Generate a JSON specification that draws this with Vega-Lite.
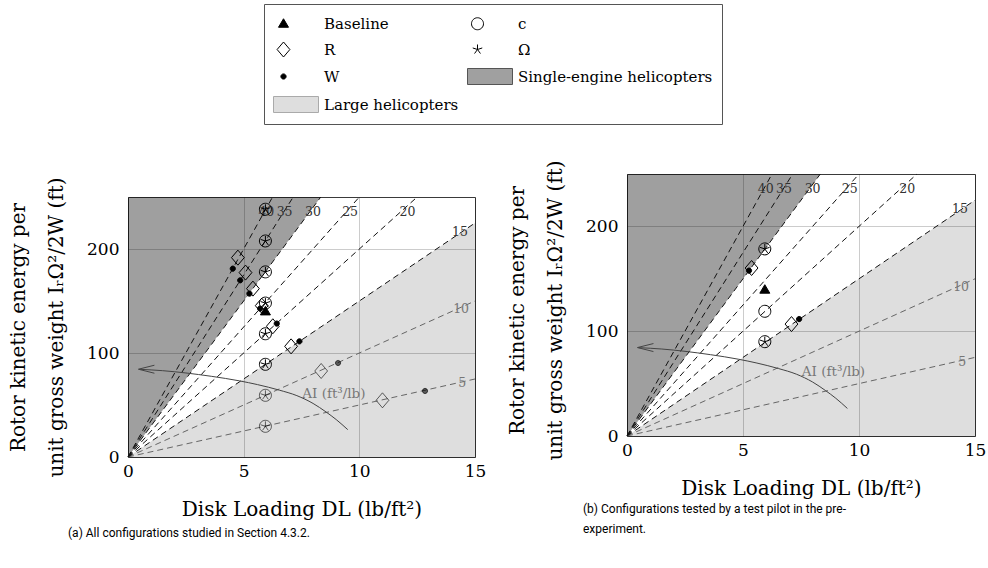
{
 "$schema": "https://vega.github.io/schema/vega-lite/v6.json",
 "padding": {"left": 8, "top": 3, "right": 2, "bottom": 2},
 "spacing": 20,
 "datasets": {
  "regions": [
   {"zone": "dark", "dl": 0, "lo": 0, "hi": 250},
   {"zone": "dark", "dl": 8.333, "lo": 250, "hi": 250},
   {"zone": "light", "dl": 0, "lo": 0, "hi": 0},
   {"zone": "light", "dl": 15, "lo": 0, "hi": 225}
  ],
  "iso": [
   {"ai": 5, "dl": 0, "e": 0}, {"ai": 5, "dl": 15, "e": 75},
   {"ai": 10, "dl": 0, "e": 0}, {"ai": 10, "dl": 15, "e": 150},
   {"ai": 15, "dl": 0, "e": 0}, {"ai": 15, "dl": 15, "e": 225},
   {"ai": 20, "dl": 0, "e": 0}, {"ai": 20, "dl": 12.5, "e": 250},
   {"ai": 25, "dl": 0, "e": 0}, {"ai": 25, "dl": 10, "e": 250},
   {"ai": 30, "dl": 0, "e": 0}, {"ai": 30, "dl": 8.333, "e": 250},
   {"ai": 35, "dl": 0, "e": 0}, {"ai": 35, "dl": 7.143, "e": 250},
   {"ai": 40, "dl": 0, "e": 0}, {"ai": 40, "dl": 6.25, "e": 250}
  ],
  "isoLabels": [
   {"ai": 40, "label": "40", "dl": 5.98, "e": 236},
   {"ai": 35, "label": "35", "dl": 6.77, "e": 236},
   {"ai": 30, "label": "30", "dl": 8.0, "e": 236},
   {"ai": 25, "label": "25", "dl": 9.6, "e": 236},
   {"ai": 20, "label": "20", "dl": 12.08, "e": 236},
   {"ai": 15, "label": "15", "dl": 14.35, "e": 216.5},
   {"ai": 10, "label": "10", "dl": 14.4, "e": 142},
   {"ai": 5, "label": "5", "dl": 14.45, "e": 71}
  ],
  "curve": [
   {"dl": 9.5, "e": 26.3}, {"dl": 9.0, "e": 36.0}, {"dl": 8.56, "e": 43.3},
   {"dl": 8.0, "e": 51.5}, {"dl": 7.3, "e": 59.0}, {"dl": 6.54, "e": 64.3},
   {"dl": 5.6, "e": 69.6}, {"dl": 4.82, "e": 73.2}, {"dl": 3.6, "e": 77.6},
   {"dl": 2.5, "e": 80.8}, {"dl": 1.5, "e": 83.0}, {"dl": 0.5, "e": 84.3}
  ],
  "arrow": [{"dl": 0.45, "e": 84.4}],
  "aiLabel": [{"dl": 8.9, "e": 61, "label": "AI (ft³/lb)"}],
  "ptsA": [
   {"cfg": "c", "dl": 5.94, "e": 29.5, "region": "large"},
   {"cfg": "c", "dl": 5.94, "e": 59.3, "region": "large"},
   {"cfg": "c", "dl": 5.94, "e": 89.1, "region": "main"},
   {"cfg": "c", "dl": 5.94, "e": 118.5, "region": "main"},
   {"cfg": "c", "dl": 5.94, "e": 148, "region": "main"},
   {"cfg": "c", "dl": 5.94, "e": 178, "region": "main"},
   {"cfg": "c", "dl": 5.94, "e": 207.7, "region": "main"},
   {"cfg": "c", "dl": 5.94, "e": 238.2, "region": "main"},
   {"cfg": "Ω", "dl": 5.94, "e": 29.5, "region": "large"},
   {"cfg": "Ω", "dl": 5.94, "e": 59.3, "region": "large"},
   {"cfg": "Ω", "dl": 5.94, "e": 89.1, "region": "main"},
   {"cfg": "Ω", "dl": 5.94, "e": 118.5, "region": "main"},
   {"cfg": "Ω", "dl": 5.94, "e": 148, "region": "main"},
   {"cfg": "Ω", "dl": 5.94, "e": 178, "region": "main"},
   {"cfg": "Ω", "dl": 5.94, "e": 207.7, "region": "main"},
   {"cfg": "Ω", "dl": 5.94, "e": 238.2, "region": "main"},
   {"cfg": "Baseline", "dl": 5.94, "e": 140, "region": "main"},
   {"cfg": "R", "dl": 4.75, "e": 191.7, "region": "main"},
   {"cfg": "R", "dl": 5.08, "e": 177.3, "region": "main"},
   {"cfg": "R", "dl": 5.4, "e": 161.9, "region": "main"},
   {"cfg": "R", "dl": 5.78, "e": 145.5, "region": "main"},
   {"cfg": "R", "dl": 6.26, "e": 125.7, "region": "main"},
   {"cfg": "R", "dl": 7.05, "e": 106.4, "region": "main"},
   {"cfg": "R", "dl": 8.35, "e": 82.7, "region": "large"},
   {"cfg": "R", "dl": 11.0, "e": 54.5, "region": "large"},
   {"cfg": "W", "dl": 4.53, "e": 181.1, "region": "main"},
   {"cfg": "W", "dl": 4.85, "e": 169.9, "region": "main"},
   {"cfg": "W", "dl": 5.25, "e": 157.1, "region": "main"},
   {"cfg": "W", "dl": 5.71, "e": 142.7, "region": "main"},
   {"cfg": "W", "dl": 6.43, "e": 128.3, "region": "main"},
   {"cfg": "W", "dl": 7.41, "e": 111.2, "region": "main"},
   {"cfg": "W", "dl": 9.08, "e": 90.4, "region": "large"},
   {"cfg": "W", "dl": 12.84, "e": 63.5, "region": "large"}
  ],
  "ptsB": [
   {"cfg": "Baseline", "dl": 5.94, "e": 139.6},
   {"cfg": "c", "dl": 5.94, "e": 178.5},
   {"cfg": "c", "dl": 5.94, "e": 119},
   {"cfg": "c", "dl": 5.94, "e": 90},
   {"cfg": "Ω", "dl": 5.94, "e": 178.5},
   {"cfg": "Ω", "dl": 5.94, "e": 90},
   {"cfg": "R", "dl": 5.37, "e": 160.3},
   {"cfg": "R", "dl": 7.09, "e": 106.8},
   {"cfg": "W", "dl": 5.26, "e": 157.8},
   {"cfg": "W", "dl": 7.42, "e": 111.6}
  ],
  "none": []
 },
 "hconcat": [
  {
   "spacing": 0,
   "vconcat": [
    {
     "width": 347,
     "height": 2,
     "view": {"stroke": null},
     "data": {"name": "none"},
     "mark": {"type": "point"},
     "encoding": {}
    },
    {
     "width": 347,
     "height": 260,
     "title": {"text": "(a) All configurations studied in Section 4.3.2.", "orient": "bottom", "anchor": "start", "frame": "group", "dx": -60, "offset": 9},
     "layer": [
      {
       "data": {"name": "regions"},
       "transform": [{"filter": "datum.zone === 'dark'"}],
       "mark": {"type": "area", "fill": "#000", "fillOpacity": 0.375},
       "encoding": {
        "x": {"field": "dl", "type": "quantitative", "scale": {"domain": [0, 15], "nice": false},
              "axis": {"values": [0, 5, 10, 15], "title": "Disk Loading DL (lb/ft²)"}},
        "y": {"field": "lo", "type": "quantitative", "scale": {"domain": [0, 250], "nice": false},
              "axis": {"values": [0, 100, 200], "titleY": 130, "title": ["Rotor kinetic energy per", "unit gross weight IᵣΩ²/2W (ft)"]}},
        "y2": {"field": "hi"}
       }
      },
      {
       "data": {"name": "regions"},
       "transform": [{"filter": "datum.zone === 'light'"}],
       "mark": {"type": "area", "fill": "#000", "fillOpacity": 0.13},
       "encoding": {
        "x": {"field": "dl", "type": "quantitative", "scale": {"domain": [0, 15], "nice": false}},
        "y": {"field": "lo", "type": "quantitative", "scale": {"domain": [0, 250], "nice": false}},
        "y2": {"field": "hi"}
       }
      },
      {
       "data": {"name": "iso"},
       "transform": [{"filter": "datum.ai <= 10"}],
       "mark": {"type": "line", "color": "#666", "strokeWidth": 1, "strokeDash": [6, 4]},
       "encoding": {
        "x": {"field": "dl", "type": "quantitative", "scale": {"domain": [0, 15], "nice": false}},
        "y": {"field": "e", "type": "quantitative", "scale": {"domain": [0, 250], "nice": false}},
        "detail": {"field": "ai", "type": "nominal"}
       }
      },
      {
       "data": {"name": "iso"},
       "transform": [{"filter": "datum.ai >= 15"}],
       "mark": {"type": "line", "color": "#111", "strokeWidth": 1, "strokeDash": [6, 4]},
       "encoding": {
        "x": {"field": "dl", "type": "quantitative", "scale": {"domain": [0, 15], "nice": false}},
        "y": {"field": "e", "type": "quantitative", "scale": {"domain": [0, 250], "nice": false}},
        "detail": {"field": "ai", "type": "nominal"}
       }
      },
      {
       "data": {"name": "isoLabels"},
       "transform": [{"filter": "datum.ai >= 15"}],
       "mark": {"type": "text", "font": "DejaVu Serif", "fontSize": 12.5, "color": "#333", "align": "center", "baseline": "middle"},
       "encoding": {
        "x": {"field": "dl", "type": "quantitative", "scale": {"domain": [0, 15], "nice": false}},
        "y": {"field": "e", "type": "quantitative", "scale": {"domain": [0, 250], "nice": false}},
        "text": {"field": "label"}
       }
      },
      {
       "data": {"name": "isoLabels"},
       "transform": [{"filter": "datum.ai <= 10"}],
       "mark": {"type": "text", "font": "DejaVu Serif", "fontSize": 12.5, "color": "#777", "align": "center", "baseline": "middle"},
       "encoding": {
        "x": {"field": "dl", "type": "quantitative", "scale": {"domain": [0, 15], "nice": false}},
        "y": {"field": "e", "type": "quantitative", "scale": {"domain": [0, 250], "nice": false}},
        "text": {"field": "label"}
       }
      },
      {
       "data": {"name": "curve"},
       "mark": {"type": "line", "color": "#444", "strokeWidth": 1, "interpolate": "monotone"},
       "encoding": {
        "x": {"field": "dl", "type": "quantitative", "scale": {"domain": [0, 15], "nice": false}},
        "y": {"field": "e", "type": "quantitative", "scale": {"domain": [0, 250], "nice": false}}
       }
      },
      {
       "data": {"name": "arrow"},
       "mark": {"type": "point", "shape": "M3.2,-0.8L0,0L3.2,0.8", "size": 100, "stroke": "#444", "strokeWidth": 1, "fill": "transparent", "opacity": 1},
       "encoding": {
        "x": {"field": "dl", "type": "quantitative", "scale": {"domain": [0, 15], "nice": false}},
        "y": {"field": "e", "type": "quantitative", "scale": {"domain": [0, 250], "nice": false}}
       }
      },
      {
       "data": {"name": "aiLabel"},
       "mark": {"type": "text", "font": "DejaVu Serif", "fontSize": 13.5, "color": "#777", "align": "center", "baseline": "middle"},
       "encoding": {
        "x": {"field": "dl", "type": "quantitative", "scale": {"domain": [0, 15], "nice": false}},
        "y": {"field": "e", "type": "quantitative", "scale": {"domain": [0, 250], "nice": false}},
        "text": {"field": "label"}
       }
      },
      {
       "data": {"name": "ptsA"},
       "transform": [{"filter": "datum.region === 'main'"}],
       "mark": {"type": "point", "filled": true, "size": 400, "strokeWidth": 1, "opacity": 1},
       "encoding": {
        "x": {"field": "dl", "type": "quantitative", "scale": {"domain": [0, 15], "nice": false}},
        "y": {"field": "e", "type": "quantitative", "scale": {"domain": [0, 250], "nice": false}},
        "shape": {"field": "cfg", "type": "nominal",
         "scale": {"domain": ["Baseline", "R", "W", "Large helicopters", "c", "Ω", "Single-engine helicopters"],
                   "range": ["M0,-0.5L0.5,0.35L-0.5,0.35Z", "M0,-0.75L0.64,0L0,0.75L-0.64,0Z", "M0.26,0A0.26,0.26,0,1,1,-0.26,0A0.26,0.26,0,1,1,0.26,0Z", "M-1,-0.8H3.5V0.8H-1Z", "M0.6,0A0.6,0.6,0,1,1,-0.6,0A0.6,0.6,0,1,1,0.6,0Z", "M0,0L0,-0.5M0,0L0.4755,-0.1545M0,0L0.2939,0.4045M0,0L-0.2939,0.4045M0,0L-0.4755,-0.1545", "M-1,-0.8H3.5V0.8H-1Z"]},
         "legend": {"title": null, "orient": "none", "legendX": 136, "legendY": -170, "columns": 2, "columnPadding": 6, "rowPadding": 7, "symbolSize": 400, "symbolStrokeWidth": 1, "labelFont": "DejaVu Serif", "labelFontSize": 15, "labelColor": "#000", "labelOffset": 30, "labelBaseline": "middle", "labelLimit": 400, "padding": 9, "strokeColor": "#555", "fillColor": "#fff"}},
        "fill": {"field": "cfg", "type": "nominal",
         "scale": {"domain": ["Baseline", "R", "W", "Large helicopters", "c", "Ω", "Single-engine helicopters"],
                   "range": ["#000", "transparent", "#000", "#dedede", "transparent", "transparent", "#a0a0a0"]}},
        "stroke": {"field": "cfg", "type": "nominal",
         "scale": {"domain": ["Baseline", "R", "W", "Large helicopters", "c", "Ω", "Single-engine helicopters"],
                   "range": ["#000", "#000", "#000", "#aaa", "#000", "#000", "#555"]}}
       }
      },
      {
       "data": {"name": "ptsA"},
       "transform": [{"filter": "datum.region === 'large'"}],
       "mark": {"type": "point", "filled": true, "size": 400, "strokeWidth": 1, "strokeOpacity": 0.6, "fillOpacity": 0.6},
       "encoding": {
        "x": {"field": "dl", "type": "quantitative", "scale": {"domain": [0, 15], "nice": false}},
        "y": {"field": "e", "type": "quantitative", "scale": {"domain": [0, 250], "nice": false}},
        "shape": {"field": "cfg", "type": "nominal",
         "scale": {"domain": ["Baseline", "R", "W", "Large helicopters", "c", "Ω", "Single-engine helicopters"],
                   "range": ["M0,-0.5L0.5,0.35L-0.5,0.35Z", "M0,-0.75L0.64,0L0,0.75L-0.64,0Z", "M0.26,0A0.26,0.26,0,1,1,-0.26,0A0.26,0.26,0,1,1,0.26,0Z", "M-1,-0.8H3.5V0.8H-1Z", "M0.6,0A0.6,0.6,0,1,1,-0.6,0A0.6,0.6,0,1,1,0.6,0Z", "M0,0L0,-0.5M0,0L0.4755,-0.1545M0,0L0.2939,0.4045M0,0L-0.2939,0.4045M0,0L-0.4755,-0.1545", "M-1,-0.8H3.5V0.8H-1Z"]}},
        "fill": {"field": "cfg", "type": "nominal",
         "scale": {"domain": ["Baseline", "R", "W", "Large helicopters", "c", "Ω", "Single-engine helicopters"],
                   "range": ["#000", "transparent", "#000", "#dedede", "transparent", "transparent", "#a0a0a0"]}},
        "stroke": {"field": "cfg", "type": "nominal",
         "scale": {"domain": ["Baseline", "R", "W", "Large helicopters", "c", "Ω", "Single-engine helicopters"],
                   "range": ["#000", "#000", "#000", "#aaa", "#000", "#000", "#555"]}}
       }
      }
     ]
    }
   ]
  },
  {
   "width": 348,
   "height": 262,
   "title": {"text": ["(b) Configurations tested by a test pilot in the pre-", "experiment."], "orient": "bottom", "anchor": "start", "frame": "group", "align": "left", "dx": -44, "offset": 6, "lineHeight": 20},
   "layer": [
    {
     "data": {"name": "regions"},
     "transform": [{"filter": "datum.zone === 'dark'"}],
     "mark": {"type": "area", "fill": "#000", "fillOpacity": 0.375},
     "encoding": {
      "x": {"field": "dl", "type": "quantitative", "scale": {"domain": [0, 15], "nice": false},
            "axis": {"values": [0, 5, 10, 15], "title": "Disk Loading DL (lb/ft²)"}},
      "y": {"field": "lo", "type": "quantitative", "scale": {"domain": [0, 250], "nice": false},
            "axis": {"values": [0, 100, 200], "titleY": 136, "title": ["Rotor kinetic energy per", "unit gross weight IᵣΩ²/2W (ft)"]}},
      "y2": {"field": "hi"}
     }
    },
    {
     "data": {"name": "regions"},
     "transform": [{"filter": "datum.zone === 'light'"}],
     "mark": {"type": "area", "fill": "#000", "fillOpacity": 0.13},
     "encoding": {
      "x": {"field": "dl", "type": "quantitative", "scale": {"domain": [0, 15], "nice": false}},
      "y": {"field": "lo", "type": "quantitative", "scale": {"domain": [0, 250], "nice": false}},
      "y2": {"field": "hi"}
     }
    },
    {
     "data": {"name": "iso"},
     "transform": [{"filter": "datum.ai <= 10"}],
     "mark": {"type": "line", "color": "#666", "strokeWidth": 1, "strokeDash": [6, 4]},
     "encoding": {
      "x": {"field": "dl", "type": "quantitative", "scale": {"domain": [0, 15], "nice": false}},
      "y": {"field": "e", "type": "quantitative", "scale": {"domain": [0, 250], "nice": false}},
      "detail": {"field": "ai", "type": "nominal"}
     }
    },
    {
     "data": {"name": "iso"},
     "transform": [{"filter": "datum.ai >= 15"}],
     "mark": {"type": "line", "color": "#111", "strokeWidth": 1, "strokeDash": [6, 4]},
     "encoding": {
      "x": {"field": "dl", "type": "quantitative", "scale": {"domain": [0, 15], "nice": false}},
      "y": {"field": "e", "type": "quantitative", "scale": {"domain": [0, 250], "nice": false}},
      "detail": {"field": "ai", "type": "nominal"}
     }
    },
    {
     "data": {"name": "isoLabels"},
     "transform": [{"filter": "datum.ai >= 15"}],
     "mark": {"type": "text", "font": "DejaVu Serif", "fontSize": 12.5, "color": "#333", "align": "center", "baseline": "middle"},
     "encoding": {
      "x": {"field": "dl", "type": "quantitative", "scale": {"domain": [0, 15], "nice": false}},
      "y": {"field": "e", "type": "quantitative", "scale": {"domain": [0, 250], "nice": false}},
      "text": {"field": "label"}
     }
    },
    {
     "data": {"name": "isoLabels"},
     "transform": [{"filter": "datum.ai <= 10"}],
     "mark": {"type": "text", "font": "DejaVu Serif", "fontSize": 12.5, "color": "#777", "align": "center", "baseline": "middle"},
     "encoding": {
      "x": {"field": "dl", "type": "quantitative", "scale": {"domain": [0, 15], "nice": false}},
      "y": {"field": "e", "type": "quantitative", "scale": {"domain": [0, 250], "nice": false}},
      "text": {"field": "label"}
     }
    },
    {
     "data": {"name": "curve"},
     "mark": {"type": "line", "color": "#444", "strokeWidth": 1, "interpolate": "monotone"},
     "encoding": {
      "x": {"field": "dl", "type": "quantitative", "scale": {"domain": [0, 15], "nice": false}},
      "y": {"field": "e", "type": "quantitative", "scale": {"domain": [0, 250], "nice": false}}
     }
    },
    {
     "data": {"name": "arrow"},
     "mark": {"type": "point", "shape": "M3.2,-0.8L0,0L3.2,0.8", "size": 100, "stroke": "#444", "strokeWidth": 1, "fill": "transparent", "opacity": 1},
     "encoding": {
      "x": {"field": "dl", "type": "quantitative", "scale": {"domain": [0, 15], "nice": false}},
      "y": {"field": "e", "type": "quantitative", "scale": {"domain": [0, 250], "nice": false}}
     }
    },
    {
     "data": {"name": "aiLabel"},
     "mark": {"type": "text", "font": "DejaVu Serif", "fontSize": 13.5, "color": "#777", "align": "center", "baseline": "middle"},
     "encoding": {
      "x": {"field": "dl", "type": "quantitative", "scale": {"domain": [0, 15], "nice": false}},
      "y": {"field": "e", "type": "quantitative", "scale": {"domain": [0, 250], "nice": false}},
      "text": {"field": "label"}
     }
    },
    {
     "data": {"name": "ptsB"},
     "mark": {"type": "point", "filled": true, "size": 400, "strokeWidth": 1, "opacity": 1},
     "encoding": {
      "x": {"field": "dl", "type": "quantitative", "scale": {"domain": [0, 15], "nice": false}},
      "y": {"field": "e", "type": "quantitative", "scale": {"domain": [0, 250], "nice": false}},
      "shape": {"field": "cfg", "type": "nominal",
       "scale": {"domain": ["Baseline", "R", "W", "Large helicopters", "c", "Ω", "Single-engine helicopters"],
                 "range": ["M0,-0.5L0.5,0.35L-0.5,0.35Z", "M0,-0.75L0.64,0L0,0.75L-0.64,0Z", "M0.26,0A0.26,0.26,0,1,1,-0.26,0A0.26,0.26,0,1,1,0.26,0Z", "M-1,-0.8H3.5V0.8H-1Z", "M0.6,0A0.6,0.6,0,1,1,-0.6,0A0.6,0.6,0,1,1,0.6,0Z", "M0,0L0,-0.5M0,0L0.4755,-0.1545M0,0L0.2939,0.4045M0,0L-0.2939,0.4045M0,0L-0.4755,-0.1545", "M-1,-0.8H3.5V0.8H-1Z"]},
       "legend": {"title": null, "orient": "none", "legendX": 136, "legendY": -170, "columns": 2, "columnPadding": 6, "rowPadding": 7, "symbolSize": 400, "symbolStrokeWidth": 1, "labelFont": "DejaVu Serif", "labelFontSize": 15, "labelColor": "#000", "labelOffset": 30, "labelBaseline": "middle", "labelLimit": 400, "padding": 9, "strokeColor": "#555", "fillColor": "#fff"}},
      "fill": {"field": "cfg", "type": "nominal",
       "scale": {"domain": ["Baseline", "R", "W", "Large helicopters", "c", "Ω", "Single-engine helicopters"],
                 "range": ["#000", "transparent", "#000", "#dedede", "transparent", "transparent", "#a0a0a0"]}},
      "stroke": {"field": "cfg", "type": "nominal",
       "scale": {"domain": ["Baseline", "R", "W", "Large helicopters", "c", "Ω", "Single-engine helicopters"],
                 "range": ["#000", "#000", "#000", "#aaa", "#000", "#000", "#555"]}}
     }
    }
   ]
  }
 ],
 "config": {
  "view": {"stroke": "#3a3a3a", "strokeWidth": 1},
  "axis": {"labelFont": "DejaVu Serif", "labelFontSize": 17, "labelColor": "#000", "labelFlush": false, "labelPadding": 6,
           "titleFont": "DejaVu Serif", "titleFontSize": 20, "titleFontWeight": "normal", "titleColor": "#000", "titlePadding": 20,
           "grid": true, "gridColor": "#000", "gridOpacity": 0.2, "domain": false, "ticks": false},
  "axisY": {"labelPadding": 9, "titlePadding": 20, "titleLineHeight": 38},
  "title": {"font": "Roboto", "fontSize": 12, "fontWeight": "normal", "color": "#000"}
 }
}
